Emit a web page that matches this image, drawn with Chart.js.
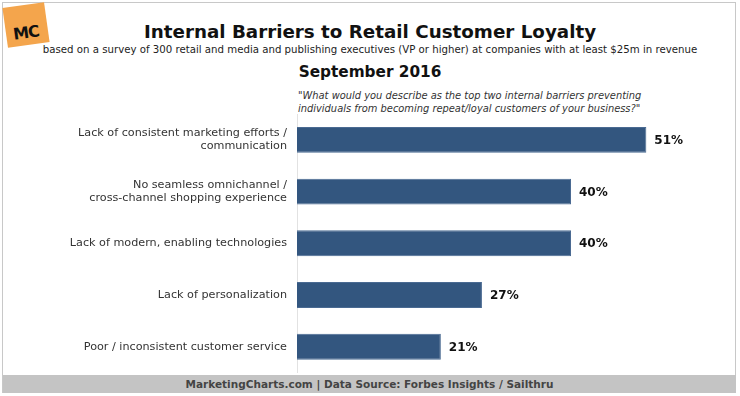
<!DOCTYPE html>
<html>
<head>
<meta charset="utf-8">
<script src="https://cdn.jsdelivr.net/npm/chart.js@4"></script>
<style>
  body { margin: 0; background: #fff; font-family: "DejaVu Sans", Verdana, sans-serif; }
  #wrap { position: relative; width: 740px; height: 396px; overflow: hidden; }
  #frame { position: absolute; left: 2px; top: 2px; width: 734px; height: 391px; border: 1px solid #c8c8c8; box-sizing: border-box; }
  canvas { position: absolute; left: 0; top: 0; }
  .t { position: absolute; left: 0; width: 740px; text-align: center; color: #111; white-space: nowrap; }
  #title { top: 21px; font-size: 18.3px; font-weight: bold; }
  #sub { top: 44px; font-size: 10.2px; color: #222; }
  #date { top: 63px; font-size: 15.3px; font-weight: bold; }
  #q { position: absolute; left: 298px; top: 89px; font-size: 9.9px; font-style: italic; color: #333; line-height: 13px; white-space: nowrap; }
  #foot { position: absolute; left: 3px; top: 375px; width: 733px; height: 18px; background: #c4c4c4; text-align: center; font-size: 10.5px; font-weight: bold; color: #444; line-height: 18px; }
  #logo { position: absolute; left: 5px; top: 5px; width: 42px; height: 40px; background: #f4a54c; transform: rotate(-8deg); }
  #logo span { position: absolute; left: 7px; top: 18px; font-size: 16px; font-weight: bold; color: #111; letter-spacing: -1px; }
</style>
</head>
<body>
<div id="wrap">
  <div id="frame"></div>
  <div id="logo"><span>MC</span></div>
  <div class="t" id="title">Internal Barriers to Retail Customer Loyalty</div>
  <div class="t" id="sub">based on a survey of 300 retail and media and publishing executives (VP or higher) at companies with at least $25m in revenue</div>
  <div class="t" id="date">September 2016</div>
  <div id="q">"What would you describe as the top two internal barriers preventing<br>individuals from becoming repeat/loyal customers of your business?"</div>
  <canvas id="chart" width="740" height="396"></canvas>
  <div id="foot">MarketingCharts.com | Data Source: Forbes Insights / Sailthru</div>
</div>
<script>
const categories = [
  ["Lack of consistent marketing efforts /", "communication"],
  ["No seamless omnichannel /", "cross-channel shopping experience"],
  "Lack of modern, enabling technologies",
  "Lack of personalization",
  "Poor / inconsistent customer service"
];
const values = [51, 40, 40, 27, 21];

const valueLabels = {
  id: "valueLabels",
  afterDatasetsDraw(chart) {
    const ctx = chart.ctx;
    const meta = chart.getDatasetMeta(0);
    ctx.save();
    ctx.font = "bold 12px 'DejaVu Sans', Verdana, sans-serif";
    ctx.fillStyle = "#111";
    ctx.textBaseline = "middle";
    meta.data.forEach((bar, i) => {
      ctx.fillText(values[i] + "%", bar.x + 8, bar.y + 1);
    });
    ctx.restore();
  }
};

const ctx = document.getElementById("chart").getContext("2d");
new Chart(ctx, {
  type: "bar",
  data: {
    labels: categories,
    datasets: [{
      data: values,
      backgroundColor: "#33567f",
      borderColor: "#4a6a92",
      borderWidth: 1,
      categoryPercentage: 1,
      barPercentage: 0.5
    }]
  },
  options: {
    indexAxis: "y",
    responsive: false,
    animation: false,
    layout: { padding: { left: 0, right: 32, top: 114, bottom: 15 } },
    plugins: { legend: { display: false }, tooltip: { enabled: false } },
    scales: {
      x: {
        min: 0,
        max: 60,
        ticks: { display: false },
        grid: { display: false },
        border: { display: false }
      },
      y: {
        afterFit(scale) { scale.width = 297; },
        ticks: {
          color: "#333",
          padding: 10,
          font: { family: "'DejaVu Sans', Verdana, sans-serif", size: 11.2 }
        },
        grid: { display: false, drawTicks: false },
        border: { display: true, color: "#e2e2e2", dash: [1, 2] }
      }
    }
  },
  plugins: [valueLabels]
});
</script>
</body>
</html>
